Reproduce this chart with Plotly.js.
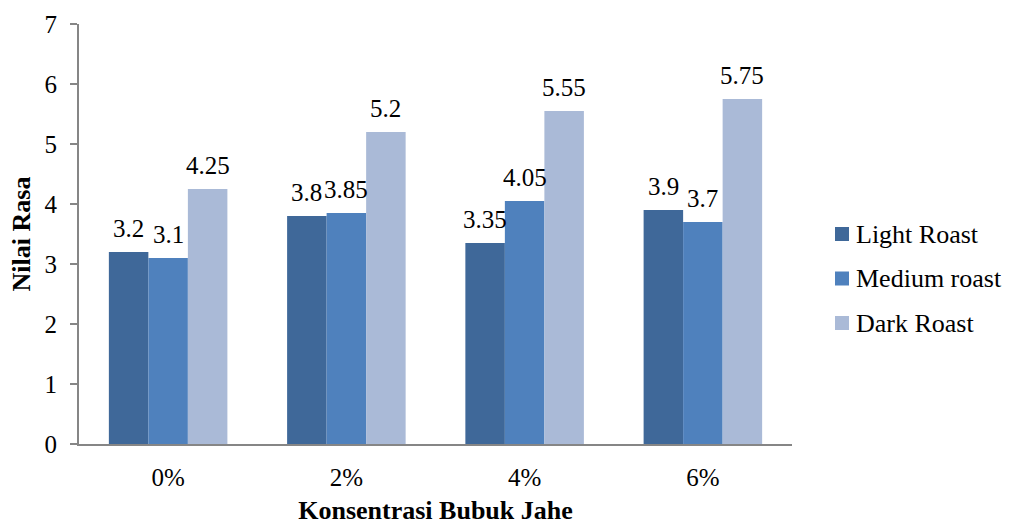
<!DOCTYPE html>
<html>
<head>
<meta charset="utf-8">
<script src="https://cdn.plot.ly/plotly-3.0.1.min.js"></script>
<style>
  html, body { margin: 0; padding: 0; background: #ffffff; }
  #chart { width: 1009px; height: 525px; }
</style>
</head>
<body>
<div id="chart"></div>
<script>
// Konsentrasi bubuk jahe (kategori sumbu X)
const categories = ['0%', '2%', '4%', '6%'];

// Nilai rasa per tingkat sangrai
const lightRoast = [3.2, 3.8, 3.35, 3.9];
const mediumRoast = [3.1, 3.85, 4.05, 3.7];
const darkRoast = [4.25, 5.2, 5.55, 5.75];

const seriesNames = ['Light Roast', 'Medium roast', 'Dark Roast'];
const seriesColors = ['#3f6899', '#4f81bd', '#aabad7'];
const seriesValues = [lightRoast, mediumRoast, darkRoast];

const fontFamily = '"Liberation Serif", "Times New Roman", serif';

const margin = { l: 79, r: 217, t: 24, b: 81 };
const width = 1009, height = 525;
const bargap = 0.335;
const plotWidth = width - margin.l - margin.r;
const plotHeight = height - margin.t - margin.b;

// pixel -> paper coordinates
const px = x => (x - margin.l) / plotWidth;
const py = y => (height - margin.b - y) / plotHeight;

const traces = seriesValues.map((vals, i) => ({
  type: 'bar',
  name: seriesNames[i],
  x: categories,
  y: vals,
  marker: { color: seriesColors[i], line: { width: 0 } },
  hoverinfo: 'x+y+name',
  showlegend: false
}));

// Value labels above each bar, offset horizontally to its slot in the group
const slotWidth = plotWidth / categories.length * (1 - bargap) / seriesValues.length;
const annotations = [];
seriesValues.forEach((vals, i) => {
  vals.forEach((v, j) => {
    annotations.push({
      x: categories[j], y: v, xref: 'x', yref: 'y',
      text: String(v),
      showarrow: false,
      xanchor: 'center', yanchor: 'bottom',
      xshift: (i - (seriesValues.length - 1) / 2) * slotWidth,
      yshift: 8,
      font: { family: fontFamily, size: 25, color: '#000000' }
    });
  });
});

// Legend on the right: square swatch + series name
const shapes = [];
const legendTop = 234, legendStep = 44.5, swatch = 14, swatchLeft = 835;
seriesNames.forEach((name, i) => {
  const cy = legendTop + i * legendStep;
  shapes.push({
    type: 'rect', xref: 'paper', yref: 'paper',
    x0: px(swatchLeft), x1: px(swatchLeft + swatch),
    y0: py(cy + swatch / 2), y1: py(cy - swatch / 2),
    fillcolor: seriesColors[i], line: { width: 0 }
  });
  annotations.push({
    xref: 'paper', yref: 'paper',
    x: px(swatchLeft + swatch + 5), y: py(cy),
    xanchor: 'left', yanchor: 'middle',
    text: name, showarrow: false,
    font: { family: fontFamily, size: 26, color: '#000000' }
  });
});

const layout = {
  width: width,
  height: height,
  margin: margin,
  paper_bgcolor: '#ffffff',
  plot_bgcolor: '#ffffff',
  barmode: 'group',
  bargap: bargap,
  bargroupgap: 0,
  font: { family: fontFamily, size: 25, color: '#000000' },
  showlegend: false,
  annotations: annotations,
  shapes: shapes,
  xaxis: {
    type: 'category',
    showgrid: false,
    zeroline: false,
    showline: true,
    linecolor: '#868686',
    linewidth: 2,
    ticks: '',
    tickfont: { family: fontFamily, size: 25, color: '#000000' },
    ticklabelstandoff: 10,
    title: {
      text: '<b>Konsentrasi Bubuk Jahe</b>',
      font: { family: fontFamily, size: 26, color: '#000000' },
      standoff: 12
    }
  },
  yaxis: {
    range: [0, 7],
    dtick: 1,
    showgrid: false,
    zeroline: false,
    showline: true,
    linecolor: '#868686',
    linewidth: 2,
    ticks: 'outside',
    ticklen: 7,
    tickwidth: 2,
    tickcolor: '#868686',
    tickfont: { family: fontFamily, size: 25, color: '#000000' },
    ticklabelstandoff: 8,
    title: {
      text: '<b>Nilai Rasa</b>',
      font: { family: fontFamily, size: 26, color: '#000000' },
      standoff: 6
    }
  }
};

Plotly.newPlot('chart', traces, layout, { displayModeBar: false, staticPlot: true });
</script>
</body>
</html>
